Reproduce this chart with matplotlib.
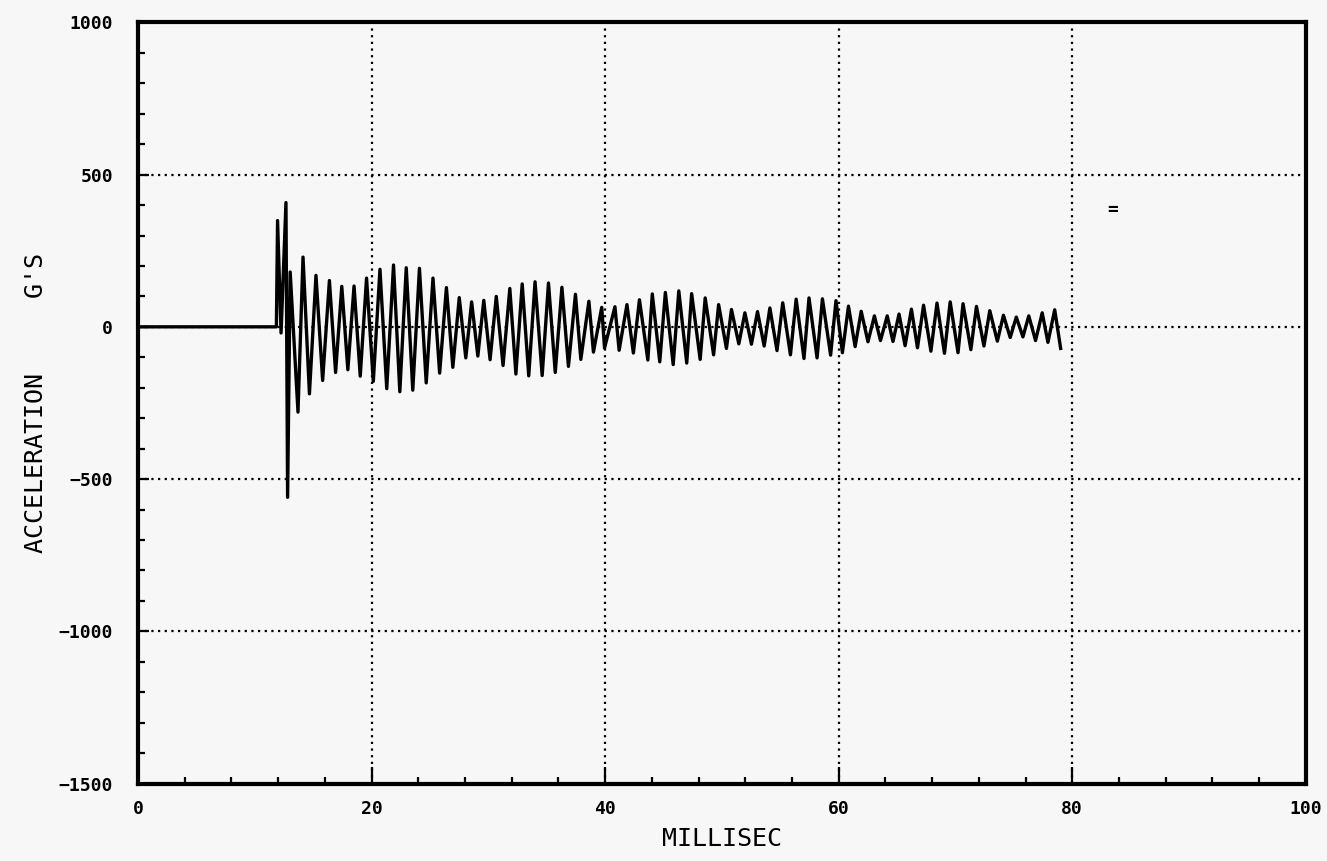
import numpy as np
import matplotlib.pyplot as plt
from matplotlib.ticker import MultipleLocator

# flat part before the impact
flat_t = [0.0, 11.85]
flat_g = [0, 0]

# upper peaks of the ringing (ms, G's)
peak_t = [11.95, 12.67, 13.03, 14.13, 15.24, 16.39, 17.45, 18.50, 19.57, 20.72,
          21.88, 22.97, 24.10, 25.26, 26.41, 27.51, 28.57, 29.61, 30.68, 31.84,
          32.90, 34.00, 35.15, 36.30, 37.46, 38.61, 39.71, 40.84, 41.87, 42.94,
          44.04, 45.16, 46.31, 47.41, 48.57, 49.72, 50.82, 51.97, 53.05, 54.11,
          55.21, 56.36, 57.46, 58.61, 59.77, 60.84, 61.93, 63.06, 64.16, 65.17,
          66.23, 67.27, 68.42, 69.55, 70.65, 71.80, 72.94, 74.11, 75.21, 76.28,
          77.43, 78.50]
peak_g = [349, 408, 180, 229, 169, 152, 133, 134, 160, 189,
          203, 194, 192, 160, 129, 96, 82, 87, 100, 126,
          141, 148, 144, 130, 107, 84, 64, 66, 73, 89,
          108, 113, 118, 109, 95, 73, 57, 46, 50, 62,
          79, 91, 95, 92, 86, 68, 51, 36, 36, 42,
          58, 71, 78, 82, 76, 67, 53, 38, 32, 36,
          46, 56]

# lower peaks (ms, G's)
trough_t = [12.25, 12.81, 13.70, 14.68, 15.81, 16.92, 17.97, 19.03, 20.15, 21.30,
            22.42, 23.53, 24.68, 25.83, 26.96, 28.07, 29.10, 30.15, 31.26, 32.36,
            33.46, 34.61, 35.73, 36.86, 37.92, 39.00, 39.95, 41.20, 42.42, 43.66,
            44.68, 45.83, 46.99, 48.14, 49.29, 50.39, 51.45, 52.53, 53.62, 54.72,
            55.87, 57.03, 58.15, 59.31, 60.32, 61.41, 62.51, 63.58, 64.65, 65.69,
            66.75, 67.90, 69.06, 70.22, 71.32, 72.44, 73.59, 74.69, 75.78, 76.86,
            77.92, 79.01]
trough_g = [-20, -560, -280, -220, -176, -150, -141, -162, -179, -203,
            -213, -208, -184, -152, -133, -102, -96, -108, -127, -155,
            -161, -160, -150, -130, -107, -83, -70, -77, -86, -109,
            -115, -124, -119, -107, -92, -71, -56, -57, -63, -78,
            -92, -104, -102, -93, -85, -65, -49, -45, -48, -62,
            -69, -80, -87, -85, -75, -63, -47, -35, -33, -45,
            -51, -71]

x_ticks = [0, 20, 40, 60, 80, 100]
y_ticks = [-1500, -1000, -500, 0, 500, 1000]

t = np.concatenate([flat_t, peak_t, trough_t])
g = np.concatenate([flat_g, peak_g, trough_g])
order = np.argsort(t)
t, g = t[order], g[order]

font = 'DejaVu Sans Mono'
bg = '#f7f7f7'

fig = plt.figure(figsize=(13.27, 8.61), dpi=100, facecolor=bg)
ax = fig.add_axes([0.104, 0.090, 0.880, 0.884], facecolor=bg)

ax.plot(t, g, color='black', lw=2.4, solid_joinstyle='round')

ax.set_xlim(0, 100)
ax.set_ylim(-1500, 1000)

# dotted grid at the labelled values
dots = (0, (1, 2.0))
for xv in x_ticks[1:-1]:
    ax.axvline(xv, color='black', ls=dots, lw=1.6)
for yv in y_ticks[1:-1]:
    ax.axhline(yv, color='black', ls=dots, lw=1.6)

# stray pen mark in the right margin of the plot
ax.text(83.5, 385, '=', fontsize=13, family=font, fontweight='bold',
        ha='center', va='center')

ax.set_xticks(x_ticks)
ax.set_yticks(y_ticks)
ax.xaxis.set_minor_locator(MultipleLocator(4))
ax.yaxis.set_minor_locator(MultipleLocator(100))
ax.tick_params(which='both', direction='in', color='black', width=1.6)
ax.tick_params(which='major', length=8, labelsize=13)
ax.tick_params(which='minor', length=5)
ax.tick_params(axis='x', which='major', length=12, pad=12)
ax.tick_params(axis='y', which='major', pad=18)
for lab in ax.get_xticklabels() + ax.get_yticklabels():
    lab.set_family(font)
    lab.set_fontweight('bold')

for s in ax.spines.values():
    s.set_linewidth(3)
    s.set_color('black')

ax.set_xlabel('MILLISEC', fontsize=18, family=font, labelpad=6)
ax.set_ylabel("ACCELERATION     G'S", fontsize=18, family=font, labelpad=8)

fig.savefig('out.png', dpi=100, facecolor=bg)
